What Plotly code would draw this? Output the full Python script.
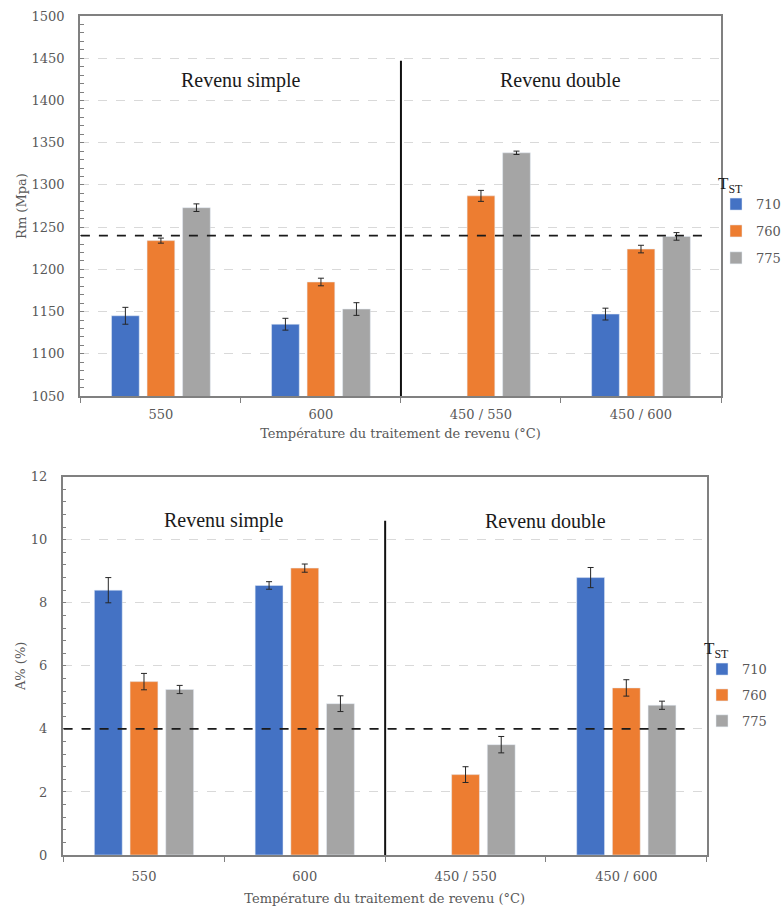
import plotly.graph_objects as go

# ---------------- data ----------------
categories = ["550", "600", "450 / 550", "450 / 600"]
series_names = ["710", "760", "775"]

rm_710 = [1145, 1135, None, 1147]
rm_760 = [1234, 1185, 1287, 1224]
rm_775 = [1273, 1153, 1338, 1239]
rm_err_710 = [10, 7, None, 7]
rm_err_760 = [3, 4.5, 6.5, 4.5]
rm_err_775 = [4.5, 7.5, 2, 4.5]

a_710 = [8.4, 8.55, None, 8.8]
a_760 = [5.5, 9.1, 2.55, 5.3]
a_775 = [5.25, 4.8, 3.5, 4.75]
a_err_710 = [0.4, 0.12, None, 0.32]
a_err_760 = [0.26, 0.13, 0.25, 0.26]
a_err_775 = [0.13, 0.25, 0.26, 0.13]

rm_threshold = 1240
a_threshold = 4
group_labels = ["Revenu simple", "Revenu double"]

# ---------------- style ----------------
colors = ["#4472C4", "#ED7D31", "#A5A5A5"]
W, H = 782, 906
tick_font = dict(family="DejaVu Serif", size=13, color="#595959")
title_font = dict(family="DejaVu Serif", size=13, color="#595959")
ann_font = dict(family="Liberation Serif", size=20, color="#1a1a1a")
axis_line = "#808080"
grid_col = "#D9D9D9"

fig = go.Figure()

rm_vals = [rm_710, rm_760, rm_775]
rm_errs = [rm_err_710, rm_err_760, rm_err_775]
a_vals = [a_710, a_760, a_775]
a_errs = [a_err_710, a_err_760, a_err_775]

for i, name in enumerate(series_names):
    fig.add_trace(go.Bar(
        x=categories, y=rm_vals[i], name=name, marker_color=colors[i],
        error_y=dict(type="data", array=rm_errs[i], color="#262626", thickness=1, width=3),
        xaxis="x", yaxis="y", legend="legend", legendgroup="t" + name,
    ))
for i, name in enumerate(series_names):
    fig.add_trace(go.Bar(
        x=categories, y=a_vals[i], name=name, marker_color=colors[i],
        error_y=dict(type="data", array=a_errs[i], color="#262626", thickness=1, width=3),
        xaxis="x2", yaxis="y2", legend="legend2", legendgroup="b" + name,
    ))

def px_x(p):
    return p / W

def px_y(p):
    return 1 - p / H

x_title = "Température du traitement de revenu (°C)"

common_x = dict(
    type="category", tickson="boundaries", ticks="outside", ticklen=5,
    tickcolor=axis_line, showline=True, linecolor=axis_line, linewidth=1.5,
    mirror=True, showgrid=False, tickfont=tick_font, fixedrange=True,
)
common_y = dict(
    showline=True, linecolor=axis_line, linewidth=1.5, mirror=True,
    showgrid=True, gridcolor=grid_col, griddash="dash", gridwidth=1,
    ticks="inside", ticklen=4, tickcolor=axis_line, zeroline=False,
    tickfont=tick_font, ticklabelstandoff=11,
)

legend_title = dict(text="T<sub>ST</sub>", font=dict(family="Liberation Serif", size=17, color="#1a1a1a"), side="top")

fig.update_layout(
    width=W, height=H, autosize=False,
    margin=dict(l=0, r=0, t=0, b=0, autoexpand=False),
    paper_bgcolor="white", plot_bgcolor="white",
    barmode="group", bargap=0.334, bargroupgap=0.22,
    xaxis=dict(common_x, domain=[px_x(80), px_x(721)], anchor="y", ticklabelstandoff=6,
               title=dict(text=x_title, font=title_font, standoff=8)),
    yaxis=dict(common_y, domain=[px_y(396), px_y(16)], anchor="x",
               range=[1050, 1500], dtick=50,
               minor=dict(dtick=10, ticks="inside", ticklen=4, tickcolor=axis_line, showgrid=False),
               title=dict(text="Rm (Mpa)", font=title_font, standoff=2)),
    xaxis2=dict(common_x, domain=[px_x(62.7), px_x(706.7)], anchor="y2", ticklabelstandoff=9,
                title=dict(text=x_title, font=title_font, standoff=11)),
    yaxis2=dict(common_y, domain=[px_y(855), px_y(476.7)], anchor="x2",
                range=[0, 12], dtick=2,
                minor=dict(dtick=0.4, ticks="inside", ticklen=4, tickcolor=axis_line, showgrid=False),
                title=dict(text="A% (%)", font=title_font, standoff=2)),
    legend=dict(
        x=px_x(716), y=px_y(167), xanchor="left", yanchor="top",
        bgcolor="rgba(0,0,0,0)", font=tick_font, tracegroupgap=7,
        title=legend_title, traceorder="grouped",
    ),
    legend2=dict(
        x=px_x(702), y=px_y(632), xanchor="left", yanchor="top",
        bgcolor="rgba(0,0,0,0)", font=tick_font, tracegroupgap=6,
        title=legend_title, traceorder="grouped",
    ),
)

n = len(categories)
mid = n / 2 - 0.5  # boundary between simple and double tempering groups

# threshold dashed lines
fig.add_shape(type="line", xref="x", yref="y", x0=-0.5, x1=n - 0.6,
              y0=rm_threshold, y1=rm_threshold, line=dict(color="#1a1a1a", width=1.8, dash="dash"))
fig.add_shape(type="line", xref="x2", yref="y2", x0=-0.5, x1=n - 0.6,
              y0=a_threshold, y1=a_threshold, line=dict(color="#1a1a1a", width=1.8, dash="dash"))

# divider lines
fig.add_shape(type="line", xref="x", yref="y", x0=mid, x1=mid, y0=1050, y1=1447,
              line=dict(color="#111111", width=2))
fig.add_shape(type="line", xref="x2", yref="y2", x0=mid, x1=mid, y0=0, y1=10.6,
              line=dict(color="#111111", width=2))

# group labels
for ax, ya in (("x", 1424), ("x2", 10.6)):
    yref = "y" if ax == "x" else "y2"
    fig.add_annotation(x=mid - 1, y=ya, xref=ax, yref=yref, text=group_labels[0],
                       showarrow=False, font=ann_font)
    fig.add_annotation(x=mid + 1, y=ya, xref=ax, yref=yref, text=group_labels[1],
                       showarrow=False, font=ann_font)

# remove the default page margin so the figure fills the window exactly
fig.write_html("out.html", config={"displayModeBar": False},
               post_script="document.body.style.margin='0';")
